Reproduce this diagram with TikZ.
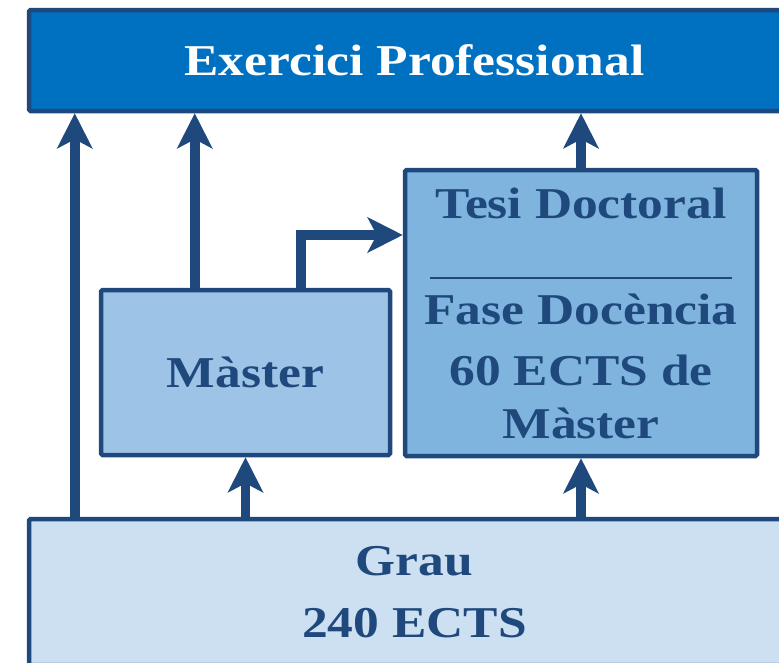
\documentclass[tikz,border=0pt]{standalone}
\usepackage{fontspec}
\setmainfont{Liberation Serif}[FakeStretch=1.17]
\usetikzlibrary{arrows.meta}
\definecolor{dblue}{HTML}{1F497D}
\definecolor{topblue}{HTML}{0070C0}
\definecolor{midblue}{HTML}{9DC3E6}
\definecolor{tesiblue}{HTML}{7EB4DE}
\definecolor{lightblue}{HTML}{CCE0F2}

\begin{document}
\begin{tikzpicture}[x=1pt, y=-1pt,
        main/.style = {draw=dblue, line width=4.5pt, rounded corners=1.5pt, inner sep=0pt, align=center,
                       text=dblue, font=\fontsize{44}{53}\selectfont\bfseries},
        arr/.style = {draw=dblue, line width=9.5pt, -{Stealth[length=35pt,width=35pt,inset=9pt]}}]
        \useasboundingbox (0,0) rectangle (779,662);

        \node[main, fill=topblue, text=white, minimum width=771pt, minimum height=101pt] (1) at (414.5,60.5) {Exercici Professional};
        \node[main, fill=midblue, minimum width=289pt, minimum height=165pt] (2) at (245.5,372.5) {Màster};
        \node[main, fill=tesiblue, minimum width=352pt, minimum height=286pt] (3) at (581,313)
            {Tesi Doctoral\\ \rule[-8pt]{302pt}{2pt}\\ Fase Docència\\[8pt] 60 ECTS de\\ Màster};
        \node[main, fill=lightblue, minimum width=771pt, minimum height=146pt, font=\fontsize{44}{62}\selectfont\bfseries] (4) at (414.5,592) {Grau\\ 240 ECTS};

        \draw[arr] ([xshift=48pt]4.north west) -- ([xshift=48pt]1.south west);
        \draw[arr] ([xshift=96pt]2.north west) -- ([xshift=96pt]2.north west |- 1.south);
        \draw[arr] (3.north) -- (3.north |- 1.south);
        \draw[arr] ([xshift=202pt]2.north west) |- ([yshift=78pt]3.west);
        \draw[arr] (2.south |- 4.north) -- (2.south);
        \draw[arr] (3.south |- 4.north) -- (3.south);

    \end{tikzpicture}
\end{document}
